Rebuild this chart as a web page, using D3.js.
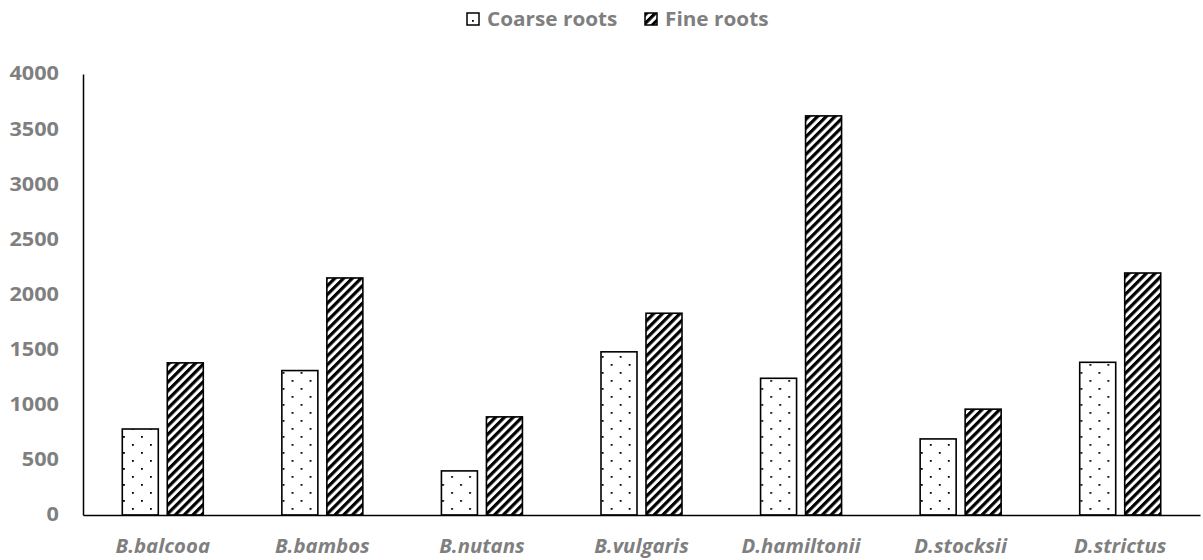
<!DOCTYPE html>
<html><head><meta charset="utf-8">
<script src="https://cdn.jsdelivr.net/npm/d3@7"></script>
<style>body{margin:0;background:#fff;} svg{display:block;}</style>
</head><body>
<svg id="chart" width="1203" height="560"></svg>
<script>
const categories = ["B.balcooa","B.bambos","B.nutans","B.vulgaris","D.hamiltonii","D.stocksii","D.strictus"];
const seriesNames = ["Coarse roots","Fine roots"];
const coarseRoots = [780, 1310, 400, 1480, 1240, 690, 1385];
const fineRoots = [1380, 2150, 890, 1830, 3620, 960, 2195];
const yTicks = [0,500,1000,1500,2000,2500,3000,3500,4000];

const svg = d3.select("#chart");
const m = {left:83, right:1200, top:74, bottom:515};
const grey = "#7f7f7f";
const font = "'Open Sans', sans-serif";
const fs = 18.7;

const defs = svg.append("defs");
const dots = defs.append("pattern").attr("id","dots").attr("patternUnits","userSpaceOnUse")
  .attr("width",18).attr("height",16);
dots.append("rect").attr("width",18).attr("height",16).attr("fill","#fff");
dots.append("rect").attr("x",4).attr("y",4).attr("width",1.8).attr("height",1.8).attr("fill","#000");
dots.append("rect").attr("x",13).attr("y",12).attr("width",1.8).attr("height",1.8).attr("fill","#000");

const stripes = defs.append("pattern").attr("id","stripes").attr("patternUnits","userSpaceOnUse")
  .attr("width",6.2).attr("height",6.2).attr("patternTransform","rotate(45)");
stripes.append("rect").attr("width",6.2).attr("height",6.2).attr("fill","#fff");
stripes.append("rect").attr("width",3.2).attr("height",6.2).attr("fill","#000");

const x0 = d3.scaleBand().domain(categories).range([m.left, m.right]).padding(0);
const inner = 81;
const x1 = d3.scaleBand().domain(seriesNames)
  .range([x0.bandwidth()/2 - inner/2, x0.bandwidth()/2 + inner/2]).paddingInner(0.2);
const y = d3.scaleLinear().domain([0,4000]).range([m.bottom, m.top]);

const fills = {"Coarse roots":"url(#dots)","Fine roots":"url(#stripes)"};
const data = categories.map((c,i)=>({cat:c, vals:[{s:"Coarse roots",v:coarseRoots[i]},{s:"Fine roots",v:fineRoots[i]}]}));

const g = svg.append("g");
g.selectAll("g.cat").data(data).join("g").attr("class","cat")
  .attr("transform",d=>`translate(${x0(d.cat)},0)`)
  .selectAll("rect").data(d=>d.vals).join("rect")
  .attr("x",d=>x1(d.s)).attr("width",x1.bandwidth())
  .attr("y",d=>y(d.v)).attr("height",d=>y(0)-y(d.v))
  .attr("fill",d=>fills[d.s]).attr("stroke","#000").attr("stroke-width",1.6);

// y axis
const sy = 1.16;
const yAxis = svg.append("g").attr("transform",`translate(${m.left},0)`)
  .call(d3.axisLeft(y).tickValues(yTicks).tickSize(0).tickPadding(24).tickFormat(d3.format("d")));
yAxis.select(".domain").attr("stroke","#000").attr("stroke-width",1.5);
yAxis.selectAll("text").attr("fill",grey).attr("font-family",font).attr("font-weight","bold")
  .attr("font-size",fs).attr("x",-24/sy).attr("transform",`scale(${sy},1)`);

// x axis
const sx = 1.09;
const xAxis = svg.append("g").attr("transform",`translate(0,${m.bottom})`)
  .call(d3.axisBottom(x0).tickSize(0).tickPadding(25));
xAxis.select(".domain").attr("stroke","#000").attr("stroke-width",1.5);
xAxis.selectAll("text").attr("fill",grey).attr("font-family",font).attr("font-weight","bold")
  .attr("font-style","italic").attr("font-size",fs).attr("transform",`scale(${sx},1)`);

// legend
const sl = 1.11;
const legend = svg.append("g");
const legItems = [{s:"Coarse roots",x:467},{s:"Fine roots",x:645}];
legItems.forEach(it=>{
  legend.append("rect").attr("x",it.x).attr("y",13).attr("width",12).attr("height",12)
    .attr("fill",fills[it.s]).attr("stroke","#000").attr("stroke-width",1.5);
  legend.append("text").attr("transform",`translate(${it.x+20},26) scale(${sl},1)`).text(it.s)
    .attr("fill",grey).attr("font-family",font).attr("font-weight","bold").attr("font-size",fs);
});
</script>
</body></html>
